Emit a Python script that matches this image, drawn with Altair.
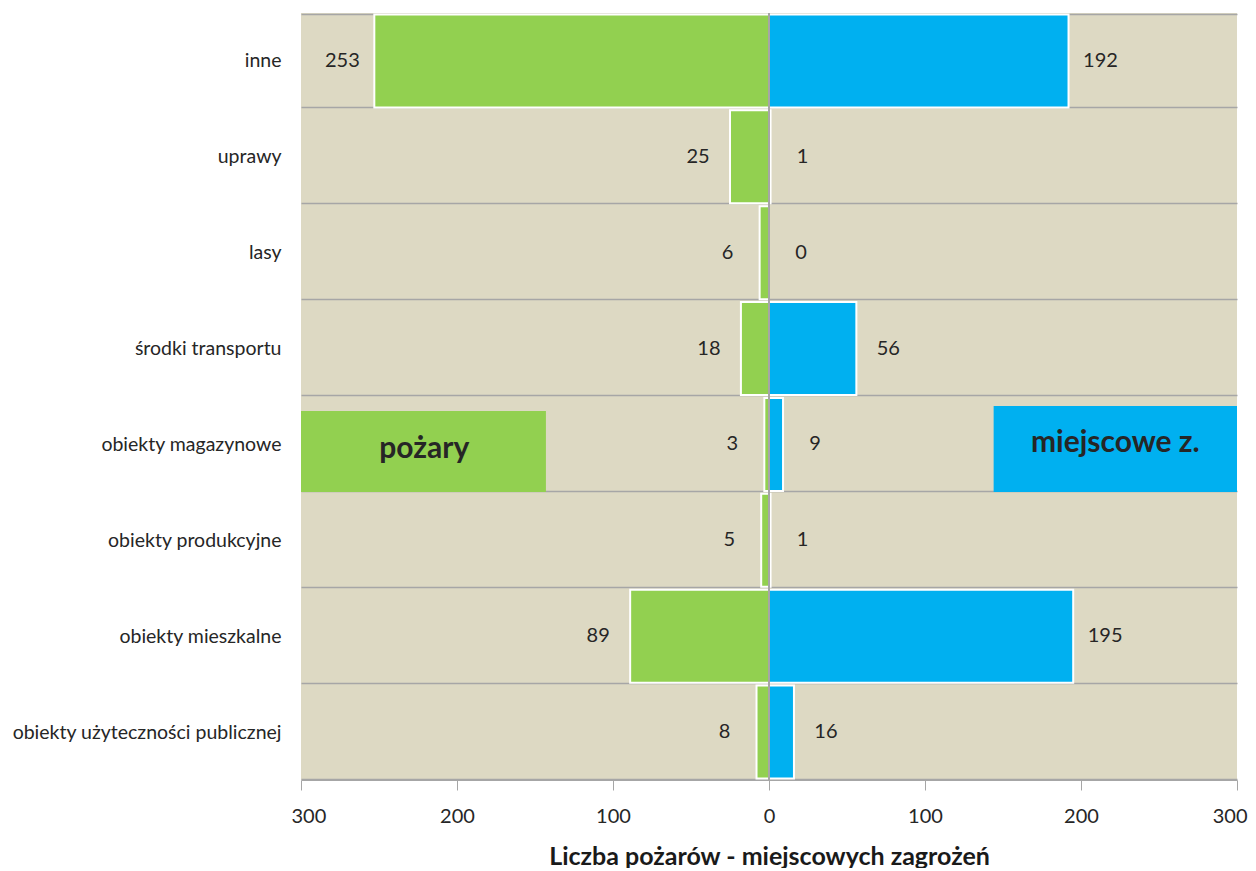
import altair as alt
import pandas as pd

categories = ["inne", "uprawy", "lasy", "środki transportu", "obiekty magazynowe",
              "obiekty produkcyjne", "obiekty mieszkalne", "obiekty użyteczności publicznej"]
pozary = [253, 25, 6, 18, 3, 5, 89, 8]
miejscowe = [192, 1, 0, 56, 9, 1, 195, 16]
series = ["pożary", "miejscowe z."]
colors = ["#92d050", "#00b0f0"]
ticks = [-300, -200, -100, 0, 100, 200, 300]

rows = []
for c, p, m in zip(categories, pozary, miejscowe):
    rows.append({"kat": c, "seria": series[0], "val": p, "signed": -p, "dir": -1})
    rows.append({"kat": c, "seria": series[1], "val": m, "signed": m, "dir": 1})
df = pd.DataFrame(rows)

legend_df = pd.DataFrame({
    "seria": series,
    "x0": [-300, 144],
    "x1": [-143, 300],
    "xt": [-221, 222],
    "y0": [398, 393],
    "y1": [479, 479],
    "yt": [436, 430],
})

FONT = "Lato, Open Sans, sans-serif"
xscale = alt.Scale(domain=[-300, 300], nice=False)
yscale = alt.Scale(domain=categories, paddingInner=0.03, paddingOuter=0.015)
cscale = alt.Scale(domain=series, range=colors)

base = alt.Chart(df)

bars = base.mark_bar(stroke="white", strokeWidth=2).encode(
    x=alt.X("signed:Q", scale=xscale,
            axis=alt.Axis(values=ticks, labelExpr="abs(datum.value)", grid=False,
                          labelFlush=True, labelFlushOffset=10,
                          title="Liczba pożarów - miejscowych zagrożeń",
                          titleFont=FONT, titleFontSize=25, titleFontWeight="bold",
                          titleColor="#1a1a1a", titlePadding=18,
                          labelFont=FONT, labelFontSize=20, labelColor="#262626",
                          labelPadding=16,
                          domainColor="#a6a6a6", tickColor="#a6a6a6", tickSize=10)),
    x2=alt.datum(0),
    y=alt.Y("kat:N", scale=yscale, sort=categories,
            axis=alt.Axis(title=None, ticks=False, domain=False, grid=True,
                          gridColor="#a6a6a6", gridWidth=1.5, tickBand="extent",
                          labelFont=FONT, labelFontSize=19.5, labelColor="#262626",
                          labelPadding=20, labelLimit=300)),
    color=alt.Color("seria:N", scale=cscale, legend=None),
)

labels = base.transform_calculate(
    pos="datum.signed + datum.dir * 20.5"
).mark_text(font=FONT, fontSize=20, color="#262626", align="center", baseline="middle").encode(
    x=alt.X("pos:Q", scale=xscale),
    y=alt.Y("kat:N", scale=yscale, sort=categories),
    text="val:Q",
)

zero = alt.Chart(pd.DataFrame({"z": [0]})).mark_rule(color="#a6a6a6", strokeWidth=2).encode(
    x=alt.X("z:Q", scale=xscale),
)

leg = alt.Chart(legend_df)
leg_box = leg.mark_rect().encode(
    x=alt.X("x0:Q", scale=xscale),
    x2="x1:Q",
    y=alt.Y("y0:Q", scale=None),
    y2="y1:Q",
    color=alt.Color("seria:N", scale=cscale, legend=None),
)
leg_text = leg.mark_text(font=FONT, fontSize=30, fontWeight="bold", color="#262626",
                         align="center", baseline="middle").encode(
    x=alt.X("xt:Q", scale=xscale),
    y=alt.Y("yt:Q", scale=None),
    text="seria:N",
)

chart = alt.layer(bars, zero, labels, leg_box, leg_text).properties(
    width=936, height=767,
    autosize=alt.AutoSizeParams(type="none"),
    padding={"left": 293, "top": 5, "right": 11, "bottom": 88},
    background="white",
).configure_view(fill="#ddd9c3", stroke=None)

chart.save("out.html", embed_options={"renderer": "svg", "actions": False})
